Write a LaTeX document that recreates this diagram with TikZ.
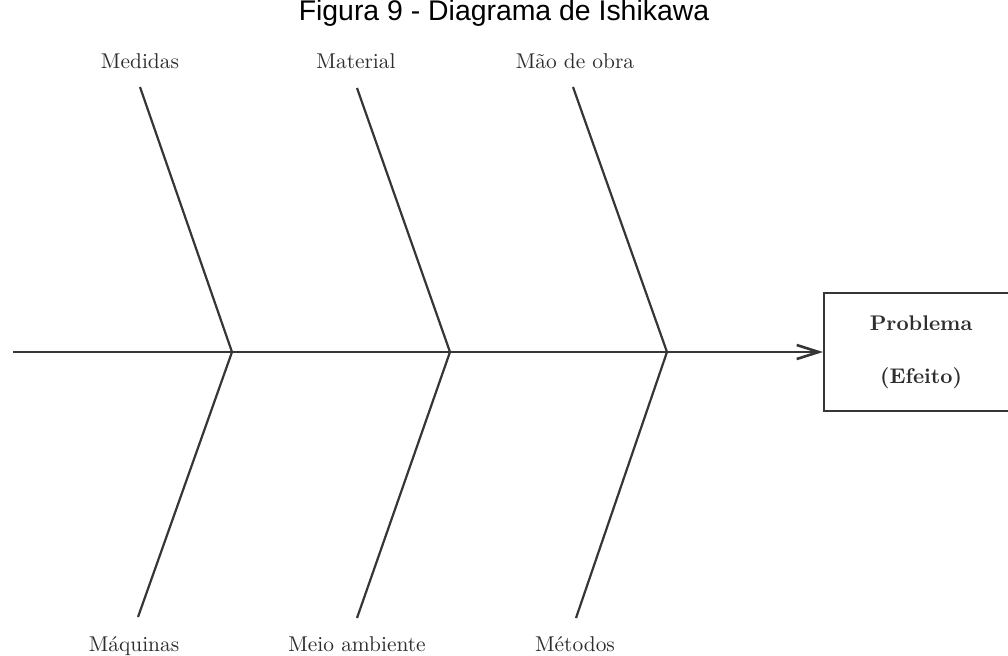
\documentclass[tikz,border=0pt]{standalone}
\usepackage{fontspec}
\newfontfamily\titlefont{Liberation Sans}
\usetikzlibrary{arrows.meta}
\definecolor{ink}{HTML}{363636}
\definecolor{txt}{HTML}{2E2E2E}
\begin{document}
\begin{tikzpicture}[x=0.5pt,y=-0.5pt,
  bone/.style={draw=ink,line width=1.1pt},
  lbl/.style={text=txt,font=\fontsize{10.7}{12}\selectfont,inner sep=0pt,anchor=base},
  effectbox/.style={draw=ink,line width=1.1pt,minimum width=97pt,minimum height=59pt,inner sep=0pt,anchor=west,align=center,text=txt,font=\fontsize{10.6}{12.5}\selectfont\bfseries}]
\useasboundingbox (0,0) rectangle (1008,655);
\fill[white] (0,0) rectangle (1008,655);
\node[font=\titlefont\fontsize{14.2}{16}\selectfont,anchor=base,inner sep=0pt] (title) at (504,20) {Figura 9 - Diagrama de Ishikawa};
% spine
\coordinate (s0) at (13,352);
\coordinate (j1) at (232,352);
\coordinate (j2) at (450,352);
\coordinate (j3) at (667,352);
\node[effectbox] (eff) at (823,352) {Problema\\[14pt](Efeito)};
% branch ends
\coordinate (t1) at (140,87);
\coordinate (t2) at (357,88);
\coordinate (t3) at (573,87);
\coordinate (b1) at (138,617);
\coordinate (b2) at (357,618);
\coordinate (b3) at (576,618);
% labels
\node[lbl] (lmed) at (140,68) {Medidas};
\node[lbl] (lmat) at (356,68) {Material};
\node[lbl] (lmao) at (575,68) {Mão de obra};
\node[lbl] (lmaq) at (134,651) {Máquinas};
\node[lbl] (lmei) at (357,651) {Meio ambiente};
\node[lbl] (lmet) at (575,651) {Métodos};
% connectors
\draw[bone] (s0) -- (j1) -- (j2) -- (j3);
\draw[bone,-{Straight Barb[length=11pt,width=7pt,line width=1.3pt]}] (j3) -- (eff.west);
\draw[bone] (t1) -- (j1) -- (b1);
\draw[bone] (t2) -- (j2) -- (b2);
\draw[bone] (t3) -- (j3) -- (b3);
\end{tikzpicture}
\end{document}
